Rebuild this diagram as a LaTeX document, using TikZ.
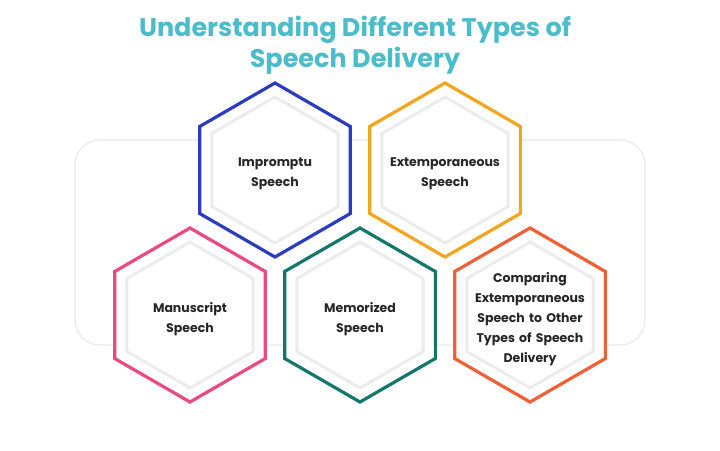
\documentclass[tikz,border=0pt]{standalone}
\usepackage{fontspec}
\setmainfont{Poppins}
\usetikzlibrary{calc, positioning, shapes.geometric}

\definecolor{titlecol}{HTML}{4BBCCB}
\definecolor{hexblue}{HTML}{2B3CC0}
\definecolor{hexgold}{HTML}{F4A51E}
\definecolor{hexpink}{HTML}{E94A7F}
\definecolor{hexteal}{HTML}{13776C}
\definecolor{hexred}{HTML}{EF6034}
\definecolor{panel}{HTML}{E6EBE9}
\definecolor{inner}{HTML}{ECECEC}

\tikzset{
  hexouter/.style={regular polygon, regular polygon sides=6, shape border rotate=30,
    minimum size=174pt, line width=3.2pt, inner sep=0pt, fill=white},
  hexinner/.style={regular polygon, regular polygon sides=6, shape border rotate=30,
    minimum size=146pt, line width=3pt, draw=inner, inner sep=0pt},
  hexlabel/.style={align=center, text width=120pt, yshift=-4pt, font=\fontsize{12.5}{20}\selectfont\bfseries, text=black!85},
}

\begin{document}
\begin{tikzpicture}[x=1pt, y=-1pt]

  \useasboundingbox (0,0) rectangle (720,450);

  % background panel
  \draw[panel, line width=1.2pt, rounded corners=25pt] (75,140) rectangle (645,345);

  \node[font=\fontsize{25.5}{31}\selectfont\bfseries, text=titlecol, align=center] (title) at (355,45)
    {Understanding Different Types of\\Speech Delivery};

  \coordinate (c-imp)  at (275,170);
  \coordinate (c-ext)  at (445,170);
  \coordinate (c-man)  at (190,315);
  \coordinate (c-mem)  at (360,315);
  \coordinate (c-cmp)  at (530,315);

  \foreach \pos/\col/\name/\txt in {
      c-imp/hexblue/imp/{Impromptu\\Speech},
      c-ext/hexgold/ext/{Extemporaneous\\Speech},
      c-man/hexpink/man/{Manuscript\\Speech},
      c-mem/hexteal/mem/{Memorized\\Speech},
      c-cmp/hexred/cmp/{Comparing\\Extemporaneous\\Speech to Other\\Types of Speech\\Delivery}} {
    \node[hexouter, draw=\col] (hex-\name) at (\pos) {};
    \node[hexinner] (hexin-\name) at (\pos) {};
    \node[hexlabel] (lbl-\name) at (\pos) {\txt};
  }

\end{tikzpicture}
\end{document}
